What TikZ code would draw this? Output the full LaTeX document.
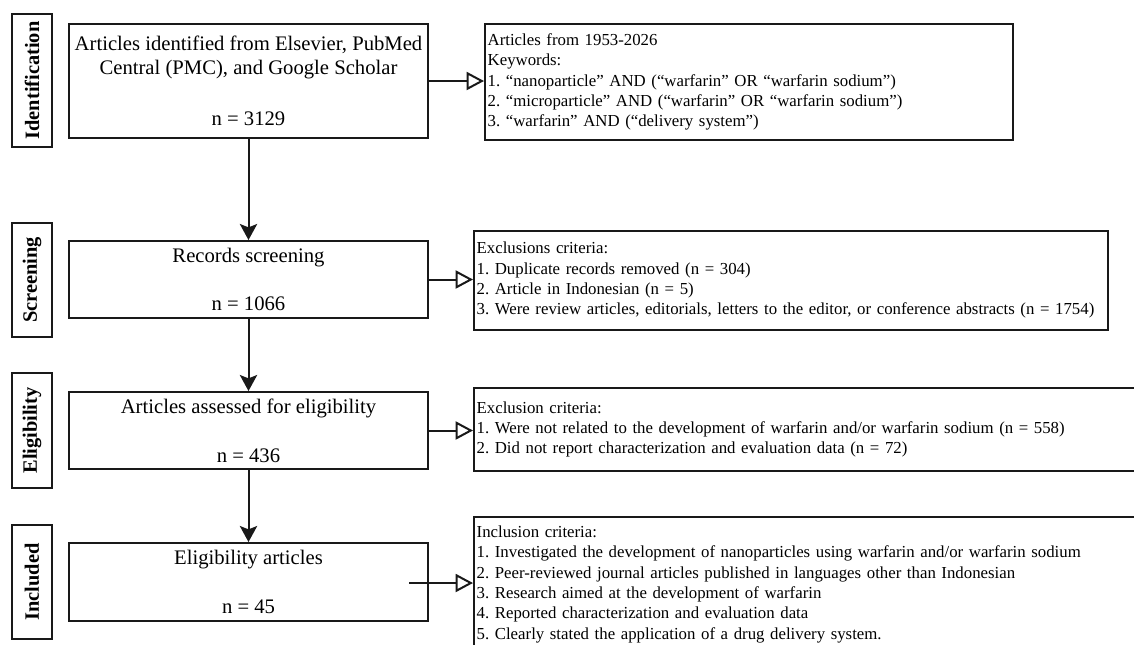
\documentclass[tikz,border=0pt]{standalone}
\usepackage{fontspec}
\setmainfont{Liberation Serif}
\usetikzlibrary{arrows.meta}
\frenchspacing

\definecolor{prismaLine}{RGB}{25,25,25}

\begin{document}
\begin{tikzpicture}[x=0.75pt, y=-0.75pt,
  stagebox/.style={draw=prismaLine, line width=1.5pt, rotate=90, minimum height=30pt, inner sep=0pt, font=\bfseries\fontsize{15.3}{17}\selectfont},
  flowbox/.style={draw=prismaLine, line width=1.5pt, minimum width=269.25pt, align=center, inner sep=0pt, font=\fontsize{15.5}{17.5}\selectfont},
  critbox/.style={draw=prismaLine, line width=1.5pt, anchor=north west, align=left, inner xsep=2pt, inner ysep=0pt, font=\fontsize{12.6}{15.2}\selectfont},
  flowarrow/.style={draw=prismaLine, line width=1.5pt, -{Stealth[length=12pt, width=13pt, inset=2.5pt]}},
  critarrow/.style={draw=prismaLine, line width=1.5pt, -{Triangle[open, length=13pt, width=13.5pt]}}]
  \clip (0,0) rectangle (1134,644);
  % stage labels
  \node[stagebox, minimum width=99.75pt] (stageId) at (32,80.5) {Identification};
  \node[stagebox, minimum width=85.5pt] (stageScr) at (32,280) {Screening};
  \node[stagebox, minimum width=86.25pt] (stageElig) at (32,430.5) {Eligibility};
  \node[stagebox, minimum width=85.5pt] (stageIncl) at (32,582) {Included};
  % main flow
  \node[flowbox, minimum height=85.5pt] (ident) at (248.5,81) {Articles identified from Elsevier, PubMed\\Central (PMC), and Google Scholar\\[21pt]n = 3129};
  \node[flowbox, minimum height=57.75pt] (screen) at (248.5,279.5) {Records screening\\[19pt]n = 1066};
  \node[flowbox, minimum height=57.75pt] (elig) at (248.5,430.5) {Articles assessed for eligibility\\[19pt]n = 436};
  \node[flowbox, minimum height=58.5pt] (incl) at (248.5,582) {Eligibility articles\\[19pt]n = 45};
  % criteria
  \node[critbox, text width=392pt, minimum height=87pt] (identCrit) at (484,23) {Articles from 1953-2026\\Keywords:\\1. “nanoparticle” AND (“warfarin” OR “warfarin sodium”)\\2. “microparticle” AND (“warfarin” OR “warfarin sodium”)\\3. “warfarin” AND (“delivery system”)};
  \node[critbox, text width=471.5pt, minimum height=74pt] (screenCrit) at (473,230) {Exclusions criteria:\\1. Duplicate records removed (n = 304)\\2. Article in Indonesian (n = 5)\\3. Were review articles, editorials, letters to the editor, or conference abstracts (n = 1754)};
  \node[critbox, text width=510pt, minimum height=62pt] (eligCrit) at (473,387) {Exclusion criteria:\\1. Were not related to the development of warfarin and/or warfarin sodium (n = 558)\\2. Did not report characterization and evaluation data (n = 72)};
  \node[critbox, text width=510pt, minimum height=101pt] (inclCrit) at (473,516) {Inclusion criteria:\\1. Investigated the development of nanoparticles using warfarin and/or warfarin sodium\\2. Peer-reviewed journal articles published in languages other than Indonesian\\3. Research aimed at the development of warfarin\\4. Reported characterization and evaluation data\\5. Clearly stated the application of a drug delivery system.};
  % connectors
  \draw[flowarrow] (ident) -- (screen);
  \draw[flowarrow] (screen) -- (elig);
  \draw[flowarrow] (elig) -- (incl);
  \draw[critarrow] (ident.east) -- (identCrit.west |- ident.east);
  \draw[critarrow] (screen.east) -- (screenCrit.west |- screen.east);
  \draw[critarrow] (elig.east) -- (eligCrit.west |- elig.east);
  \coordinate (inclStub) at (409,583);
  \draw[critarrow] (inclStub) -- (inclCrit.west |- inclStub);
\end{tikzpicture}
\end{document}
